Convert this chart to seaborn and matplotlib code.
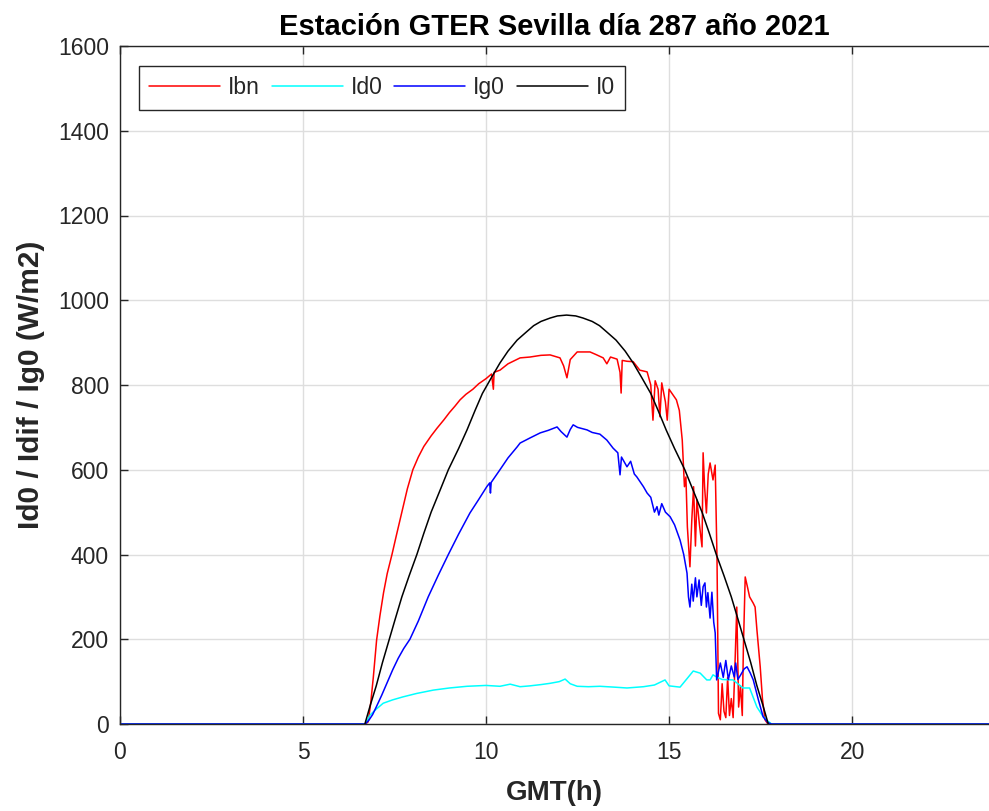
import matplotlib
matplotlib.use("Agg")
import matplotlib.pyplot as plt
import seaborn as sns
import pandas as pd

# ---------------- data ----------------
t_ibn = [0, 6.7, 6.78, 6.85, 6.92, 7.01, 7.1, 7.2, 7.3, 7.43, 7.55, 7.7, 7.85, 8.0, 8.15,
         8.3, 8.5, 8.66, 8.85, 9.0, 9.15, 9.29, 9.45, 9.64, 9.8, 10.0,
         10.15, 10.2, 10.22, 10.38, 10.6, 10.93, 11.2, 11.5, 11.75, 12.02, 12.12, 12.21,
         12.3, 12.49, 12.84, 13.0, 13.2, 13.3, 13.4, 13.58, 13.66, 13.69, 13.72, 13.85,
         14.02, 14.2, 14.4, 14.5, 14.56, 14.62, 14.7, 14.75, 14.8, 14.9, 14.95, 15.0, 15.2,
         15.28, 15.36, 15.42, 15.46, 15.5, 15.57, 15.62, 15.67, 15.72, 15.76, 15.83, 15.9,
         15.93, 15.97, 16.02, 16.07, 16.12, 16.2, 16.26, 16.31, 16.35, 16.4, 16.45, 16.5,
         16.55, 16.6, 16.65, 16.7, 16.75, 16.8, 16.85, 16.9, 16.95, 17.0, 17.03, 17.08,
         17.15, 17.2, 17.3, 17.35, 17.4, 17.49, 17.55, 17.62, 17.7, 24]
ibn = [0, 0, 5, 50, 110, 198, 255, 310, 355, 400, 445, 500, 555, 600, 630,
       655, 680, 698, 718, 735, 750, 765, 778, 790, 803, 815,
       826, 790, 830, 835, 850, 864, 866, 870, 871, 864, 845, 817,
       860, 878, 878, 872, 864, 850, 866, 861, 830, 781, 858, 856,
       855, 835, 831, 800, 717, 810, 790, 725, 805, 760, 717, 790, 765,
       740, 670, 560, 583, 465, 371, 480, 560, 420, 529, 470, 418,
       640, 560, 498, 590, 616, 576, 611, 387, 25, 10, 95, 30,
       15, 110, 20, 60, 15, 140, 276, 40, 90, 20, 180, 347,
       320, 300, 285, 276, 222, 135, 60, 10, 0, 0]

t_id0 = [0, 6.7, 6.83, 7.0, 7.19, 7.45, 7.73, 8.1, 8.56, 9.0, 9.48, 10.0, 10.38, 10.66,
         10.93, 11.2, 11.5, 11.75, 12.0, 12.16, 12.3, 12.49, 12.8, 13.11, 13.5, 13.85, 14.3,
         14.6, 14.89, 15.0, 15.3, 15.5, 15.66, 15.85, 16.03, 16.12, 16.2, 16.3, 16.45,
         16.75, 17.02, 17.2, 17.4, 17.55, 17.68, 17.8, 24]
id0 = [0, 0, 21, 35, 49, 57, 64, 72, 80, 85, 89, 91, 89, 94,
       88, 90, 93, 96, 100, 106, 95, 89, 88, 89, 87, 85, 88,
       92, 104, 90, 87, 108, 125, 120, 104, 104, 116, 111, 105,
       104, 85, 85, 40, 20, 8, 0, 0]

t_ig0 = [0, 6.7, 6.8, 6.9, 7.0, 7.15, 7.33, 7.45, 7.6, 7.75, 7.92, 8.15, 8.42, 8.7, 8.97,
         9.25, 9.56, 9.8, 10.02, 10.1, 10.12, 10.14,
         10.38, 10.6, 10.85, 10.93, 11.2, 11.48, 11.7, 11.94, 12.05, 12.21, 12.3, 12.38, 12.5,
         12.76, 12.9, 13.11, 13.3, 13.47, 13.6, 13.66, 13.7, 13.85, 13.95, 14.05, 14.12,
         14.3, 14.4, 14.5, 14.6, 14.67, 14.72, 14.8, 14.9, 15.03, 15.15, 15.3, 15.4, 15.49,
         15.53, 15.57, 15.62, 15.66, 15.72, 15.76, 15.82, 15.88, 15.93, 15.98, 16.02, 16.06,
         16.12, 16.17, 16.22, 16.26, 16.3, 16.4, 16.48, 16.55, 16.62, 16.7, 16.78, 16.82,
         16.88, 16.95, 17.05, 17.13, 17.22, 17.3, 17.44, 17.57, 17.7, 17.8, 24]
ig0 = [0, 0, 9, 22, 40, 68, 104, 128, 155, 178, 200, 243, 300, 352, 400,
       448, 498, 530, 560, 569, 545, 570,
       600, 628, 654, 663, 675, 687, 693, 701, 690, 677, 695, 706, 700,
       694, 688, 684, 670, 651, 640, 588, 630, 607, 620, 590, 583,
       560, 545, 535, 500, 513, 493, 520, 500, 489, 470, 434, 400, 356,
       300, 276, 330, 290, 345, 300, 340, 280, 324, 333, 276, 310,
       250, 311, 240, 215, 104, 144, 110, 150, 105, 137, 111, 144,
       105, 115, 130, 135, 120, 104, 57, 17, 3, 0, 0]

t_i0 = [6.69, 6.84, 7.0, 7.17, 7.35, 7.52, 7.7, 7.9, 8.11, 8.3, 8.5, 8.75, 8.97, 9.25,
        9.48, 9.7, 9.9, 10.15, 10.38, 10.6, 10.85, 11.1, 11.3, 11.5, 11.75, 11.95, 12.2,
        12.45, 12.65, 12.9, 13.1, 13.3, 13.55, 13.8, 14.02, 14.25, 14.5, 14.7, 14.92,
        15.15, 15.43, 15.65, 15.9, 16.1, 16.29, 16.5, 16.7, 16.88, 17.05, 17.23, 17.4,
        17.56, 17.71]
i0 = [0, 45, 90, 145, 198, 248, 300, 350, 400, 450, 500, 553, 600, 650,
      694, 740, 780, 818, 852, 880, 906, 925, 940, 950, 958, 963, 965,
      963, 958, 950, 940, 925, 906, 880, 852, 818, 780, 740, 694,
      650, 600, 553, 500, 450, 400, 350, 300, 248, 198, 145, 90,
      45, 0]

series_names = ["Ibn", "Id0", "Ig0", "I0"]
series_colors = ["#ff0000", "#00ffff", "#0000ff", "#000000"]
x_ticks = [0, 5, 10, 15, 20]
y_ticks = [0, 200, 400, 600, 800, 1000, 1200, 1400, 1600]

title_text = "Estación GTER Sevilla día 287 año 2021"
xlabel_text = "GMT(h)"
ylabel_text = "Id0 / Idif / Ig0 (W/m2)"

# ---------------- styling ----------------
sns.set_theme(style="white")
plt.rcParams["font.family"] = ["Liberation Sans", "DejaVu Sans"]

frames = []
for name, tt, vv in zip(series_names, [t_ibn, t_id0, t_ig0, t_i0], [ibn, id0, ig0, i0]):
    frames.append(pd.DataFrame({"t": tt, "v": vv, "serie": name}))
df = pd.concat(frames, ignore_index=True)

fig = plt.figure(figsize=(9.89, 8.11), dpi=100)
ax = fig.add_axes([120 / 989, 87 / 811, 869 / 989, 678 / 811])

for name, col in zip(series_names, series_colors):
    sub = df[df["serie"] == name]
    sns.lineplot(data=sub, x="t", y="v", ax=ax, color=col, lw=1.1,
                 label=name, sort=False, estimator=None)

ax.set_xlim(0, 23.74)
ax.set_ylim(0, 1600)
ax.set_xticks(x_ticks)
ax.set_yticks(y_ticks)
ax.set_xticklabels([str(v) for v in x_ticks])
ax.set_yticklabels([str(v) for v in y_ticks])
ax.grid(True, color="#dedede", lw=1.0)
ax.set_axisbelow(True)

for s in ["left", "bottom", "top"]:
    ax.spines[s].set_visible(True)
    ax.spines[s].set_color("#262626")
    ax.spines[s].set_linewidth(1.0)
ax.spines["right"].set_visible(False)

ax.tick_params(axis="both", direction="in", length=6, width=1.0, color="#262626",
               labelsize=16.5, labelcolor="#262626", top=True, bottom=True, left=True)
ax.tick_params(axis="y", pad=8)
ax.tick_params(axis="x", pad=12)

ax.set_title(title_text, fontsize=21, fontweight="bold", color="black", pad=8)
ax.set_xlabel(xlabel_text, fontsize=20, fontweight="bold", color="#262626", labelpad=12)
ax.set_ylabel(ylabel_text, fontsize=21.5, fontweight="bold", color="#262626", labelpad=9)

leg = ax.legend(loc="upper left", bbox_to_anchor=(19 / 869, 1 - 20 / 678),
                borderaxespad=0, ncol=4, fontsize=16.5, frameon=True, fancybox=False,
                framealpha=1, edgecolor="#262626", handlelength=3.1,
                handletextpad=0.35, columnspacing=0.5, borderpad=0.45)
leg.get_frame().set_linewidth(1.0)
for line in leg.get_lines():
    line.set_linewidth(1.1)

fig.savefig("out.png", dpi=100)
